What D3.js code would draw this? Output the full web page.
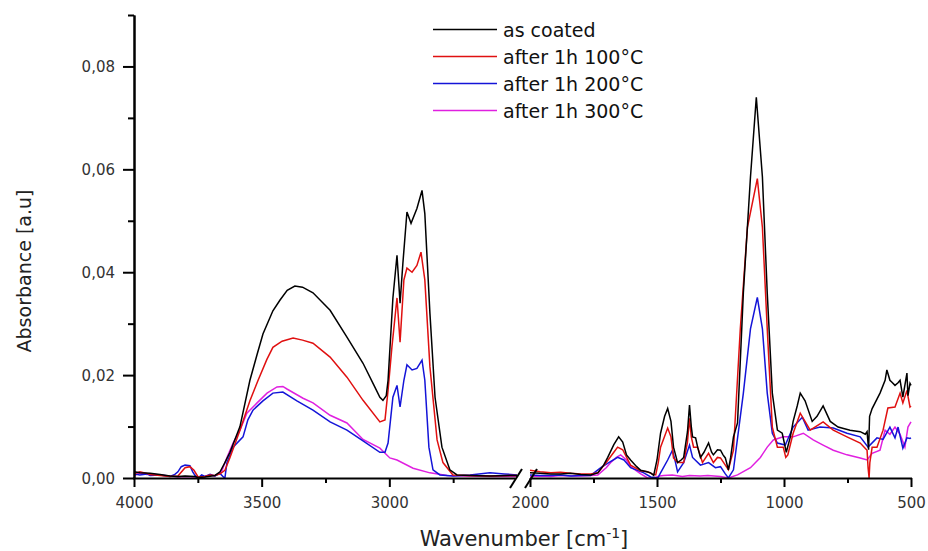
<!DOCTYPE html>
<html>
<head>
<meta charset="utf-8">
<script src="https://cdn.jsdelivr.net/npm/d3@7"></script>
</head>
<body style="margin:0">
<svg id="chart" width="928" height="551"></svg>
<script>
// ---------------- DATA (wavenumber cm-1, absorbance a.u.) ----------------
const seriesNames = ["as coated", "after 1h 100°C", "after 1h 200°C", "after 1h 300°C"];
const seriesColors = ["#000000", "#e01010", "#1414d8", "#e020e0"];

// high-wavenumber segment (4000 - 2500)
const asCoatedHigh = [[4000,0.0012],[3977,0.001],[3937,0.0009],[3898,0.0007],[3859,0.0004],[3828,0.0003],[3800,0.0004],[3761,0.0003],[3749,0.0001],[3722,0.0002],[3683,0.0005],[3663,0.0012],[3644,0.003],[3624,0.005],[3585,0.010],[3546,0.019],[3518,0.024],[3495,0.028],[3456,0.0325],[3428,0.0346],[3400,0.0365],[3370,0.0373],[3340,0.0371],[3299,0.036],[3232,0.0326],[3166,0.0274],[3103,0.0223],[3060,0.018],[3037,0.0157],[3025,0.0151],[3012,0.016],[3005,0.019],[2986,0.035],[2970,0.0433],[2958,0.034],[2947,0.0417],[2931,0.0517],[2915,0.0495],[2892,0.0524],[2872,0.0559],[2861,0.0514],[2841,0.032],[2821,0.0157],[2794,0.006],[2763,0.0016],[2735,0.0006],[2684,0.0005],[2606,0.0004],[2500,0.0005]];
const after100High = [[4000,0.0008],[3977,0.0012],[3950,0.0009],[3937,0.0007],[3898,0.0005],[3859,0.0003],[3828,0.0004],[3800,0.002],[3781,0.0022],[3765,0.0015],[3749,0.0002],[3722,0.0003],[3702,0.0006],[3683,0.0005],[3663,0.0008],[3644,0.0015],[3624,0.004],[3585,0.0093],[3546,0.015],[3514,0.019],[3480,0.023],[3456,0.0254],[3420,0.0266],[3377,0.0272],[3340,0.0268],[3299,0.0262],[3232,0.0235],[3166,0.0196],[3103,0.0151],[3037,0.0109],[3017,0.0113],[3005,0.017],[2990,0.0254],[2970,0.035],[2958,0.0264],[2943,0.0385],[2931,0.0408],[2911,0.040],[2892,0.0413],[2876,0.0439],[2861,0.0385],[2841,0.0216],[2813,0.0074],[2790,0.003],[2751,0.0006],[2700,0.0005],[2600,0.0004],[2500,0.0005]];
const after200High = [[4000,0.0008],[3977,0.0006],[3950,0.0008],[3937,0.0005],[3898,0.0006],[3859,0.0003],[3840,0.0007],[3828,0.0012],[3815,0.0022],[3800,0.0025],[3781,0.0024],[3770,0.0012],[3761,0.0005],[3749,0.0],[3735,0.0006],[3722,0.0003],[3702,0.0007],[3683,0.0004],[3663,0.0009],[3650,0.0002],[3644,0.0],[3636,0.003],[3612,0.006],[3573,0.008],[3554,0.0113],[3534,0.0132],[3495,0.015],[3456,0.0165],[3417,0.0167],[3362,0.015],[3299,0.0132],[3232,0.0109],[3166,0.0093],[3103,0.0072],[3037,0.005],[3017,0.005],[3005,0.0068],[2986,0.0157],[2970,0.018],[2958,0.0138],[2943,0.019],[2931,0.022],[2911,0.021],[2892,0.0213],[2872,0.0229],[2861,0.019],[2845,0.006],[2829,0.0016],[2802,0.0006],[2750,0.0004],[2684,0.0006],[2606,0.001],[2550,0.0008],[2500,0.0006]];
const after300High = [[4000,0.0005],[3977,0.0009],[3950,0.0007],[3937,0.0008],[3898,0.0006],[3859,0.0004],[3828,0.0002],[3800,0.0003],[3761,0.0002],[3749,0.0001],[3722,0.0003],[3702,0.0005],[3683,0.0004],[3663,0.0011],[3655,0.0015],[3636,0.004],[3612,0.0068],[3585,0.0093],[3558,0.0126],[3518,0.0146],[3479,0.0165],[3440,0.0177],[3417,0.0178],[3401,0.0173],[3338,0.0155],[3299,0.0146],[3232,0.0122],[3166,0.0107],[3103,0.0075],[3037,0.0058],[2998,0.0039],[2970,0.0035],[2907,0.0019],[2841,0.001],[2774,0.0005],[2700,0.0004],[2600,0.0003],[2500,0.0003]];

// low-wavenumber segment (2000 - 500)
const asCoatedLow = [[2000,0.001],[1960,0.0009],[1918,0.0008],[1880,0.0008],[1839,0.0009],[1800,0.0007],[1761,0.0006],[1733,0.001],[1710,0.0025],[1694,0.004],[1670,0.0065],[1651,0.008],[1635,0.007],[1620,0.0045],[1604,0.0035],[1580,0.0022],[1564,0.0015],[1540,0.0012],[1525,0.001],[1513,0.0005],[1500,0.0035],[1486,0.0087],[1470,0.012],[1458,0.0135],[1445,0.011],[1435,0.006],[1419,0.003],[1405,0.0035],[1395,0.004],[1380,0.009],[1372,0.0142],[1365,0.010],[1360,0.008],[1348,0.0078],[1340,0.006],[1329,0.004],[1315,0.005],[1297,0.0068],[1285,0.005],[1278,0.0045],[1262,0.0055],[1250,0.0054],[1240,0.0045],[1231,0.0039],[1219,0.0016],[1210,0.004],[1199,0.008],[1183,0.0107],[1160,0.036],[1132,0.0585],[1109,0.074],[1085,0.0585],[1066,0.036],[1046,0.0165],[1026,0.0093],[1007,0.0087],[991,0.005],[975,0.008],[964,0.011],[948,0.014],[936,0.0165],[917,0.015],[889,0.011],[870,0.012],[846,0.014],[818,0.011],[787,0.0099],[740,0.0093],[700,0.009],[680,0.0085],[673,0.009],[667,0.0055],[663,0.012],[653,0.0135],[622,0.0165],[602,0.019],[595,0.021],[583,0.019],[575,0.0186],[563,0.018],[551,0.0185],[543,0.019],[532,0.0157],[516,0.0204],[512,0.016],[504,0.0184],[500,0.018]];
const after100Low = [[2000,0.0015],[1960,0.0012],[1918,0.001],[1880,0.0011],[1839,0.0009],[1800,0.0008],[1761,0.0008],[1733,0.001],[1700,0.003],[1670,0.005],[1655,0.006],[1635,0.0055],[1604,0.0025],[1564,0.0014],[1537,0.0012],[1520,0.0008],[1505,0.0006],[1495,0.003],[1486,0.006],[1458,0.0097],[1445,0.008],[1435,0.0039],[1419,0.003],[1395,0.003],[1380,0.007],[1372,0.0116],[1365,0.008],[1356,0.006],[1340,0.006],[1321,0.003],[1297,0.0048],[1278,0.003],[1262,0.004],[1250,0.0039],[1231,0.0025],[1219,0.0016],[1199,0.0054],[1172,0.029],[1144,0.0487],[1105,0.0582],[1085,0.0487],[1066,0.029],[1046,0.0099],[1026,0.006],[1003,0.006],[993,0.004],[985,0.0045],[964,0.0087],[936,0.0126],[897,0.0093],[846,0.0109],[806,0.0093],[752,0.008],[700,0.0068],[673,0.0054],[669,0.002],[665,0.0],[662,0.003],[653,0.006],[634,0.006],[610,0.0093],[591,0.0136],[563,0.0138],[543,0.0165],[532,0.0146],[516,0.017],[504,0.0138],[500,0.014]];
const after200Low = [[2000,0.0006],[1960,0.0005],[1918,0.0005],[1880,0.0006],[1839,0.0004],[1800,0.0005],[1761,0.0005],[1721,0.002],[1690,0.003],[1655,0.004],[1630,0.0035],[1604,0.002],[1552,0.001],[1525,0.0002],[1497,0.0],[1486,0.001],[1458,0.0035],[1439,0.0054],[1427,0.003],[1419,0.0012],[1395,0.003],[1372,0.0064],[1360,0.004],[1329,0.0025],[1297,0.003],[1270,0.002],[1250,0.0022],[1231,0.0008],[1219,0.0],[1199,0.0016],[1160,0.0165],[1132,0.029],[1105,0.0351],[1085,0.029],[1066,0.0165],[1046,0.0087],[1026,0.0068],[995,0.0064],[964,0.0099],[928,0.0118],[905,0.0093],[858,0.0099],[806,0.0097],[752,0.0087],[700,0.008],[669,0.006],[634,0.0078],[610,0.0075],[583,0.0099],[563,0.0078],[551,0.0099],[532,0.0058],[516,0.0078],[504,0.0077],[500,0.0078]];
const after300Low = [[2000,0.0003],[1960,0.0004],[1918,0.0003],[1880,0.0005],[1839,0.0004],[1800,0.0004],[1761,0.0005],[1733,0.0006],[1700,0.002],[1682,0.003],[1660,0.004],[1643,0.0045],[1620,0.0035],[1604,0.0022],[1564,0.0008],[1537,0.0],[1513,0.0],[1490,0.0004],[1474,0.0005],[1440,0.0006],[1400,0.0003],[1372,0.0005],[1330,0.0004],[1300,0.0005],[1250,0.0003],[1219,0.0],[1183,0.0006],[1132,0.002],[1093,0.004],[1066,0.006],[1042,0.0074],[1003,0.008],[964,0.008],[924,0.0087],[885,0.0074],[846,0.0064],[806,0.0054],[752,0.0045],[700,0.0039],[673,0.0035],[653,0.0048],[622,0.0054],[602,0.0093],[583,0.0085],[563,0.0099],[543,0.0085],[524,0.006],[512,0.0099],[500,0.0109]];

const xMajorTicks = [4000, 3500, 3000, 2000, 1500, 1000, 500];
const xMinorTicks = [3750, 3250, 2750, 1750, 1250, 750];
const yMajorTicks = [0, 0.02, 0.04, 0.06, 0.08];
const yMinorTicks = [0.01, 0.03, 0.05, 0.07, 0.09];
const yTickLabels = ["0,00", "0,02", "0,04", "0,06", "0,08"];

// ---------------- CHART ----------------
const FONT = "DejaVu Sans, Verdana, sans-serif";
const svg = d3.select("#chart");
const x = d3.scaleLinear().domain([4000, 2500, 2000, 500]).range([134, 517, 530, 911]);
const y = d3.scaleLinear().domain([0, 0.09]).range([478, 15]);

const highSegs = [asCoatedHigh, after100High, after200High, after300High];
const lowSegs = [asCoatedLow, after100Low, after200Low, after300Low];
const line = d3.line().x(d => x(d[0])).y(d => y(d[1]));

// curves (magenta first, black on top)
[3, 2, 1, 0].forEach(i => {
  [highSegs[i], lowSegs[i]].forEach(seg => {
    svg.append("path")
      .attr("d", line(seg))
      .attr("fill", "none")
      .attr("stroke", seriesColors[i])
      .attr("stroke-width", 1.5);
  });
});

// ---- y axis
const yAxisG = svg.append("g").attr("transform", "translate(134,0)")
  .call(d3.axisLeft(y).tickValues(yMajorTicks).tickSize(11).tickSizeOuter(0)
    .tickFormat((d, i) => yTickLabels[i]));
yAxisG.selectAll("path,line").attr("stroke", "#000").attr("stroke-width", 2);
yAxisG.selectAll(".tick text")
  .attr("x", -19).attr("dy", "0.36em")
  .attr("font-size", 15).attr("fill", "#333").attr("font-family", FONT);
const yMinorG = svg.append("g").attr("transform", "translate(134,0)")
  .call(d3.axisLeft(y).tickValues(yMinorTicks).tickSize(6).tickSizeOuter(0).tickFormat(""));
yMinorG.selectAll("path,line").attr("stroke", "#000").attr("stroke-width", 2);

// ---- x axis (broken between 2500 and 2000)
const xAxisG = svg.append("g").attr("transform", "translate(0,478)")
  .call(d3.axisBottom(x).tickValues(xMajorTicks).tickSize(9).tickSizeOuter(0).tickFormat(d3.format("d")));
xAxisG.select(".domain")
  .attr("d", `M${x(4000) - 1},0.5H${x(2500) - 2}M${x(2000)},0.5H${x(500) + 1}`);
xAxisG.selectAll("path,line").attr("stroke", "#000").attr("stroke-width", 2);
xAxisG.selectAll(".tick text")
  .attr("y", 19).attr("dy", "0.71em")
  .attr("font-size", 15).attr("fill", "#333").attr("font-family", FONT);
const xMinorG = svg.append("g").attr("transform", "translate(0,478)")
  .call(d3.axisBottom(x).tickValues(xMinorTicks).tickSize(5).tickSizeOuter(0).tickFormat(""));
xMinorG.select(".domain").remove();
xMinorG.selectAll("line").attr("stroke", "#000").attr("stroke-width", 2);

// break marks
[x(2500) - 1, x(2000) + 1].forEach(cx => {
  svg.append("line").attr("x1", cx - 6).attr("y1", 488).attr("x2", cx + 6).attr("y2", 469)
    .attr("stroke", "#000").attr("stroke-width", 2);
});

// ---- axis titles
const xt = svg.append("text")
  .attr("x", 524).attr("y", 546)
  .attr("text-anchor", "middle").attr("font-size", 21).attr("fill", "#222")
  .attr("font-family", FONT);
xt.append("tspan").text("Wavenumber [cm");
xt.append("tspan").attr("dy", -8).attr("font-size", 14).text("-1");
xt.append("tspan").attr("dy", 8).text("]");

svg.append("text")
  .attr("x", -271).attr("y", 31)
  .attr("transform", "rotate(-90)")
  .attr("text-anchor", "middle").attr("font-size", 19).attr("fill", "#222")
  .attr("font-family", FONT)
  .text("Absorbance [a.u]");

// ---- legend
seriesNames.forEach((name, i) => {
  const ly = 29.5 + i * 27;
  svg.append("line").attr("x1", 433).attr("x2", 497).attr("y1", ly).attr("y2", ly)
    .attr("stroke", seriesColors[i]).attr("stroke-width", 1.5);
  svg.append("text")
    .attr("x", 503).attr("y", ly + 7)
    .attr("font-size", 19).attr("fill", "#111").attr("font-family", FONT)
    .text(name);
});
</script>
</body>
</html>
